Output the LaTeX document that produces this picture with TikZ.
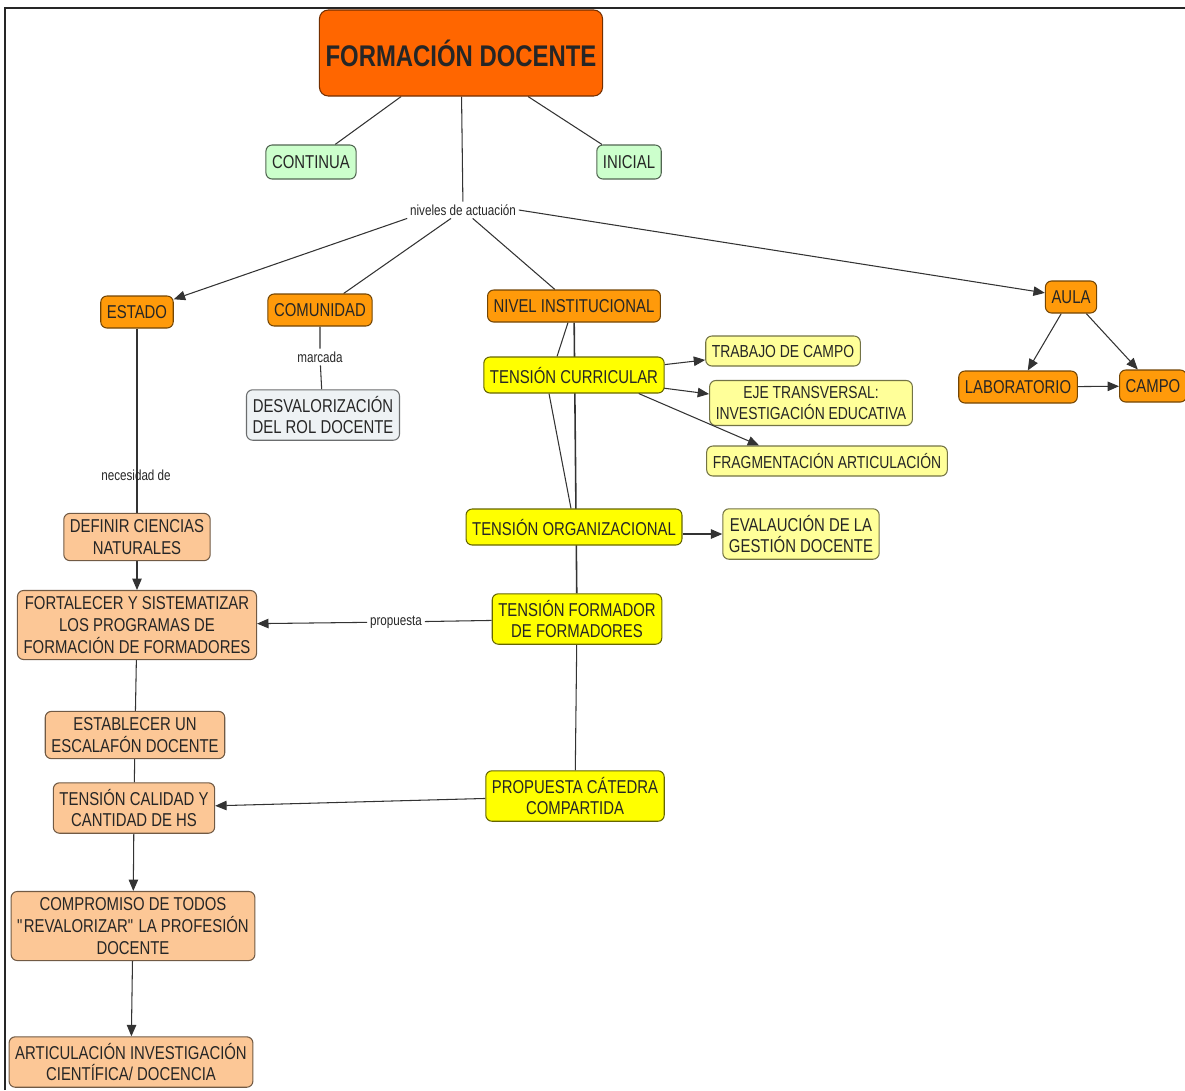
\documentclass[tikz,border=0pt]{standalone}
\usepackage{fontspec}
\setmainfont[FakeStretch=0.80]{Liberation Sans}
\usetikzlibrary{arrows.meta, calc, backgrounds}
\definecolor{fdOrange}{HTML}{FF6600}
\definecolor{lvlOrange}{HTML}{FF9A0A}
\definecolor{accPeach}{HTML}{FCC796}
\definecolor{tenYellow}{HTML}{FFFF00}
\definecolor{detYellow}{HTML}{FFFF99}
\definecolor{tipoGreen}{HTML}{CCFFCC}
\definecolor{efeGrey}{HTML}{EEF2F4}
\definecolor{inkDark}{HTML}{262626}
\definecolor{lineGrey}{HTML}{333333}

\begin{document}
\begin{tikzpicture}[x=0.02cm, y=-0.02cm,
   box/.style={rectangle, rounded corners=3.5pt, line width=0.6pt, align=center,
               text=inkDark, inner xsep=3.5pt, inner ysep=3.5pt,
               font=\fontsize{10.6}{12.4}\selectfont},
   titulo/.style={box, fill=fdOrange, draw=fdOrange!45!black, rounded corners=5pt,
                  minimum width=5.54cm, minimum height=1.72cm,
                  font=\bfseries\fontsize{17}{19}\selectfont},
   tipo/.style={box, fill=tipoGreen, draw=tipoGreen!40!black, minimum height=0.68cm},
   ambito/.style={box, fill=lvlOrange, draw=lvlOrange!45!black, minimum height=0.64cm},
   tensa/.style={box, fill=tenYellow, draw=tenYellow!40!black, minimum height=0.72cm},
   detalle/.style={box, fill=detYellow, draw=detYellow!45!black, minimum height=0.6cm,
                   font=\fontsize{9.9}{11.6}\selectfont},
   accion/.style={box, fill=accPeach, draw=accPeach!45!black},
   efecto/.style={box, fill=efeGrey, draw=efeGrey!45!black},
   rel/.style={inner sep=1.5pt, text=inkDark, font=\fontsize{8.3}{9.5}\selectfont},
   link/.style={draw=lineGrey, line width=0.6pt},
   flecha/.style={link, -{Triangle[length=6.5pt, width=5.4pt]}}]
\useasboundingbox (0,0) rectangle (1185,1090);
\draw[line width=1.6pt, black!85] (5,1090) |- (1185,8);

% top of the map
\node[titulo] (fd) at (461,53) {FORMACIÓN DOCENTE};
\node[tipo] (cont) at (311,162) {CONTINUA};
\node[tipo] (ini) at (629,162) {INICIAL};
\node[rel] (niv) at (463,210) {niveles de actuación};

\node[ambito] (estado) at (137,312) {ESTADO};
\node[ambito] (comun) at (320,310) {COMUNIDAD};
\node[ambito] (nivel) at (574,306) {NIVEL INSTITUCIONAL};
\node[ambito] (aula) at (1071,297) {AULA};
\node[ambito] (lab) at (1018,387) {LABORATORIO};
\node[ambito] (campo) at (1153,386) {CAMPO};

\node[rel] (marc) at (320,357) {marcada};
\node[efecto] (desval) at (323,415) {DESVALORIZACIÓN\\DEL ROL DOCENTE};

% institucional
\node[tensa] (curr) at (574,375) {TENSIÓN CURRICULAR};
\node[detalle] (trab) at (783,351) {TRABAJO DE CAMPO};
\node[detalle] (eje) at (811,403) {EJE TRANSVERSAL:\\INVESTIGACIÓN EDUCATIVA};
\node[detalle] (frag) at (827,461) {FRAGMENTACIÓN ARTICULACIÓN};
\node[tensa] (org) at (574,527) {TENSIÓN ORGANIZACIONAL};
\node[detalle, font=\fontsize{10.6}{12.4}\selectfont] (eval) at (801,534)
  {EVALAUCIÓN DE LA\\GESTIÓN DOCENTE};
\node[tensa] (form) at (577,619) {TENSIÓN FORMADOR\\DE FORMADORES};
\node[tensa] (cated) at (575,796) {PROPUESTA CÁTEDRA\\COMPARTIDA};

% estado
\node[rel] (nec) at (136,475) {necesidad de};
\node[accion] (defin) at (137,537) {DEFINIR CIENCIAS\\NATURALES};
\node[accion] (fort) at (137,625)
  {FORTALECER Y SISTEMATIZAR\\LOS PROGRAMAS DE\\FORMACIÓN DE FORMADORES};
\node[rel] (prop) at (396,622) {propuesta};
\node[accion] (estab) at (135,735) {ESTABLECER UN\\ESCALAFÓN DOCENTE};
\node[accion] (calid) at (134,808) {TENSIÓN CALIDAD Y\\CANTIDAD DE HS};
\node[accion] (compr) at (133,926)
  {COMPROMISO DE TODOS\\\textquotedbl REVALORIZAR\textquotedbl{} LA PROFESIÓN\\DOCENTE};
\node[accion] (artic) at (131,1062) {ARTICULACIÓN INVESTIGACIÓN\\CIENTÍFICA/ DOCENCIA};

\begin{scope}[on background layer]
\draw[link] (fd) -- (cont);
\draw[link] (fd) -- (ini);
\draw[link] (fd) -- (niv);
\draw[flecha] (niv.south west) -- (estado);
\draw[link] (niv) -- (comun);
\draw[link] (niv) -- (nivel);
\draw[flecha] (niv.east) -- (aula);
\draw[flecha] (aula) -- (lab);
\draw[flecha] (aula) -- (campo);
\draw[flecha] (lab) -- (campo);
\draw[link] (comun) -- (marc) -- (desval);
\draw[link] ($(nivel.south)+(-6,0)$) -- ($(curr.north)+(-17,0)$);
\draw[link] ($(curr.south)+(-25,0)$) -- ($(org.north)+(-3,0)$);
\draw[link, line width=0.9pt] (nivel) -- (form);
\draw[link] (form) -- (cated);
\draw[flecha] (curr) -- (trab);
\draw[flecha] ($(curr.east)+(-2,13)$) -- ($(eje.west)+(0,-9)$);
\draw[flecha] (org.east |- eval.west) -- (eval.west);
\draw[link, line width=0.9pt] (estado) -- (defin);
\draw[flecha] (defin) -- (fort);
\draw[link] (form) -- (prop);
\draw[flecha] (prop) -- (fort);
\draw[link] (fort) -- (estab);
\draw[link] (estab) -- (calid);
\draw[flecha] (cated) -- (calid);
\draw[flecha] (calid) -- (compr);
\draw[flecha] (compr) -- (artic);
\end{scope}
\draw[flecha] ($(curr.south east)+(-26,0)$) -- ($(frag.north west)+(53,0)$);
\end{tikzpicture}
\end{document}
